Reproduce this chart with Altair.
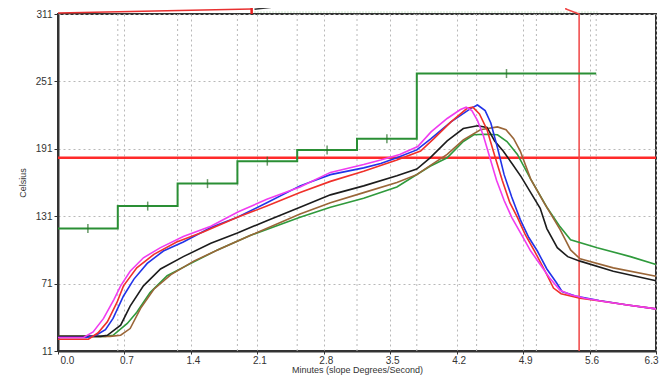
import altair as alt
import pandas as pd

# ---- axis / grid values ----
X_TICKS = [0.0, 0.7, 1.4, 2.1, 2.8, 3.5, 4.2, 4.9, 5.6, 6.3]
Y_TICKS = [11, 71, 131, 191, 251, 311]
ZONE_EDGES = [0.63, 1.26, 1.89, 2.52, 3.15, 3.78, 4.41, 5.04, 5.67]

# ---- zone set-point step line ----
STEP_T = [0.0, 0.63, 1.26, 1.89, 2.52, 3.15, 3.78, 5.67]
STEP_C = [120, 140, 160, 180, 190, 200, 258, 258]
STEP_MARK_T = [0.315, 0.945, 1.575, 2.205, 2.835, 3.465, 4.725]
STEP_MARK_C = [120, 140, 160, 180, 190, 200, 258]

LIQUIDUS = 183

# marker line (with its jog above the plot)
MARKER_T = [5.35, 5.35, 5.49, 5.49]
MARKER_C = [326, 315.5, 311, 11]

# traces of the panel above (cut off)
TOP_RED_T = [0.0, 2.04]
TOP_RED_C = [311.8, 315.5]
TOP_TICK_T = [2.04, 2.04]
TOP_TICK_C = [311, 326]
TOP_BLACK_T = [2.07, 2.95]
TOP_BLACK_C = [315.2, 324]
TOP_GREEN_T = [2.07, 5.70]
TOP_GREEN_C = [312.7, 312.7]

# ---- thermocouple traces ----
MAGENTA_T = [0.0, 0.27, 0.37, 0.48, 0.59, 0.66, 0.76, 0.90, 1.08, 1.32,
             1.61, 1.90, 2.20, 2.55, 2.87, 3.22, 3.40, 3.60, 3.79, 3.93,
             4.10, 4.24, 4.30, 4.36, 4.42, 4.48, 4.55, 4.62, 4.70, 4.78,
             4.88, 4.98, 5.08, 5.18, 5.29, 5.40, 5.55, 5.75, 6.00, 6.30]
MAGENTA_C = [23, 23, 28, 40, 57, 69, 82, 94, 103, 113,
             122, 135, 146, 157, 170, 177, 181, 186, 193, 206,
             218, 226, 228, 225, 216, 203, 183, 163, 145, 130,
             115, 100, 88, 76, 65, 61, 58, 55, 52, 48.5]

BLUE_T = [0.0, 0.30, 0.40, 0.50, 0.58, 0.69, 0.80, 0.94, 1.11, 1.32,
          1.61, 1.89, 2.20, 2.55, 2.87, 3.22, 3.40, 3.57, 3.78, 3.93,
          4.14, 4.35, 4.42, 4.50, 4.56, 4.63, 4.70, 4.78, 4.87, 4.96,
          5.05, 5.15, 5.25, 5.31, 5.45, 5.70, 6.00, 6.30]
BLUE_C = [23, 23, 25, 30, 40, 60, 75, 89, 100, 108,
          121, 130, 143, 158, 168, 174, 178, 183, 190, 200,
          215, 227, 230, 225, 214, 192, 168, 148, 128, 112,
          100, 84, 72, 64, 60, 56, 52, 48.5]

RED_T = [0.0, 0.32, 0.42, 0.52, 0.62, 0.69, 0.83, 1.01, 1.25, 1.53,
         1.89, 2.20, 2.55, 2.87, 3.22, 3.57, 3.82, 3.96, 4.14, 4.31,
         4.37, 4.44, 4.52, 4.60, 4.68, 4.76, 4.84, 4.92, 5.02, 5.12,
         5.22, 5.30, 5.50, 5.75, 6.00, 6.30]
RED_C = [21.5, 21.5, 27, 37, 54, 69, 85, 97, 108, 117,
         130, 140, 152, 162, 171, 181, 189, 200, 215, 227,
         228, 222, 208, 185, 163, 143, 130, 115, 100, 84,
         67, 62, 58, 55, 52, 48.5]

BLACK_T = [0.0, 0.45, 0.52, 0.66, 0.76, 0.90, 1.08, 1.32, 1.61,
           1.89, 2.20, 2.55, 2.87, 3.22, 3.57, 3.78, 3.92, 4.10, 4.27,
           4.42, 4.52, 4.60, 4.69, 4.79, 4.88, 4.98, 5.08, 5.15, 5.26,
           5.37, 5.50, 5.85, 6.30]
BLACK_C = [24, 24, 25, 34, 51, 69, 84, 95, 107,
           116, 127, 139, 150, 158, 167, 173, 183, 198, 209,
           211.5, 210, 198, 189, 177, 166, 152, 138, 120, 103,
           95, 91, 82, 73.5]

BROWN_T = [0.0, 0.55, 0.66, 0.76, 0.87, 1.01, 1.19, 1.43, 1.71, 2.03,
           2.55, 2.87, 3.22, 3.57, 3.78, 3.92, 4.10, 4.27, 4.45, 4.63,
           4.72, 4.80, 4.87, 4.98, 5.12, 5.29, 5.40, 5.50, 5.85, 6.30]
BROWN_C = [24, 24, 25, 31, 49, 66, 79, 91, 102, 114,
           133, 143, 152, 161, 168, 176, 186, 199, 208, 210.5,
           208, 200, 189, 164, 143, 119, 101, 93, 85, 77.5]

GREEN_T = [0.0, 0.50, 0.58, 0.73, 0.83, 0.97, 1.15, 1.40, 1.68, 2.03,
           2.55, 2.87, 3.22, 3.57, 3.92, 4.10, 4.27, 4.38, 4.50, 4.63,
           4.73, 4.84, 4.98, 5.15, 5.29, 5.40, 5.68, 6.03, 6.30]
GREEN_C = [24, 24, 25, 35.5, 45.5, 63, 78, 89, 101, 114,
           130, 139, 147, 157, 175.5, 183, 197.5, 203.5, 204, 203.5,
           197.5, 186, 164, 139, 121.5, 110, 103, 95, 88]

TRACES = [
    (GREEN_T, GREEN_C, "#2f9a3c"),
    (BROWN_T, BROWN_C, "#9a6638"),
    (BLACK_T, BLACK_C, "#1c1c1c"),
    (BLUE_T, BLUE_C, "#2233e8"),
    (RED_T, RED_C, "#f0302a"),
    (MAGENTA_T, MAGENTA_C, "#f03cf0"),
]

FONT = "Liberation Sans"

x_scale = alt.Scale(domain=[0, 6.3], nice=False, zero=False)
y_scale = alt.Scale(domain=[11, 311], nice=False, zero=False)
x_axis = alt.Axis(values=X_TICKS, format=".1f", title="Minutes (slope Degrees/Second)",
                  labelOffset=2, labelFlush=True, labelPadding=1, tickSize=3,
                  titlePadding=0)
y_axis = alt.Axis(values=Y_TICKS, format="d", title="Celsius", titlePadding=8)


def X(field="t"):
    return alt.X(f"{field}:Q", scale=x_scale, axis=x_axis)


def Y(field="c"):
    return alt.Y(f"{field}:Q", scale=y_scale, axis=y_axis)


def path_df(ts, cs):
    return pd.DataFrame({"t": ts, "c": cs, "i": list(range(len(ts)))})


layers = []

# extra (zone) grid
layers.append(
    alt.Chart(pd.DataFrame({"t": ZONE_EDGES}))
    .mark_rule(color="#b8b8b8", strokeWidth=1, strokeDash=[2, 3])
    .encode(x=X())
)

# liquidus line
layers.append(
    alt.Chart(pd.DataFrame({"c": [LIQUIDUS]}))
    .mark_rule(color="#ff2a2a", strokeWidth=2.5)
    .encode(y=Y())
)

# top-panel remnants and marker line
for ts, cs, col, w, dash in [
    (TOP_GREEN_T, TOP_GREEN_C, "#9acd9a", 1, [1, 2]),
    (TOP_RED_T, TOP_RED_C, "#e83030", 1.5, None),
    (TOP_TICK_T, TOP_TICK_C, "#e82020", 2.5, None),
    (TOP_BLACK_T, TOP_BLACK_C, "#333333", 1.5, None),
    (MARKER_T, MARKER_C, "#f04545", 1.5, None),
]:
    kw = dict(color=col, strokeWidth=w, clip=False)
    if dash:
        kw["strokeDash"] = dash
    layers.append(
        alt.Chart(path_df(ts, cs)).mark_line(**kw)
        .encode(x=X(), y=Y(), order=alt.Order("i:Q"))
    )

# zone set-point steps
layers.append(
    alt.Chart(path_df(STEP_T, STEP_C))
    .mark_line(color="#2a8f35", strokeWidth=2, interpolate="step-after")
    .encode(x=X(), y=Y(), order=alt.Order("i:Q"))
)
layers.append(
    alt.Chart(pd.DataFrame({"t": STEP_MARK_T, "c": STEP_MARK_C}))
    .mark_tick(color="#2a6f2a", orient="vertical", size=9, thickness=1.5)
    .encode(x=X(), y=Y())
)

# thermocouple traces
for ts, cs, col in TRACES:
    layers.append(
        alt.Chart(path_df(ts, cs))
        .mark_line(color=col, strokeWidth=1.6)
        .encode(x=X(), y=Y(), order=alt.Order("i:Q"))
    )

chart = (
    alt.layer(*layers)
    .properties(
        width=598,
        height=337,
        autosize=alt.AutoSizeParams(type="none"),
        padding={"left": 50, "top": 6, "right": 4, "bottom": 24},
        background="white",
    )
    .configure_view(stroke="#333333", strokeWidth=2)
    .configure_axis(
        domainColor="#333333",
        domainWidth=2,
        tickColor="#333333",
        tickSize=4,
        labelFont=FONT,
        labelFontSize=10,
        labelColor="#333333",
        titleFont=FONT,
        titleFontSize=9,
        titleFontWeight="normal",
        titleColor="#333333",
        grid=True,
        gridColor="#b8b8b8",
        gridDash=[2, 3],
        gridWidth=1,
    )
)

chart.save("out.html", embed_options={"renderer": "svg", "actions": False})
